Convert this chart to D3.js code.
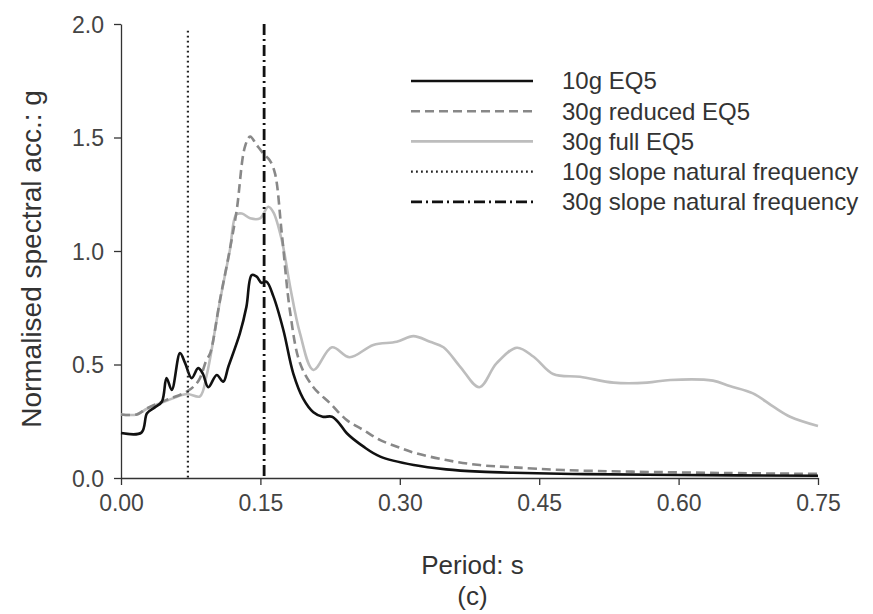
<html>
<head>
<script src="https://cdn.jsdelivr.net/npm/d3@7"></script>
<style>
  body { margin: 0; background: #fff; }
  text { font-family: "Liberation Sans", Arial, sans-serif; fill: #333; }
  .axis path, .axis line { stroke: #333; stroke-width: 1.3; }
  .axis text { font-size: 23px; fill: #444; }
  .series { fill: none; stroke-linejoin: round; }
</style>
</head>
<body>
<svg id="plot"></svg>
<script>
var SizeX = 873, SizeY = 614;
var Margin = { left: 121, right: 55, top: 24, bottom: 136 };

var xTicks = [0, 0.15, 0.30, 0.45, 0.60, 0.75];
var yTicks = [0, 0.5, 1.0, 1.5, 2.0];

// 10g EQ5
var eq10T = [0, 0.022, 0.028, 0.036, 0.044, 0.049, 0.0546, 0.0635, 0.069, 0.076, 0.083, 0.088, 0.094,
             0.103, 0.110, 0.1155, 0.128, 0.135, 0.1406, 0.146, 0.151, 0.1565, 0.164, 0.1747, 0.1854,
             0.196, 0.207, 0.217, 0.227, 0.235, 0.243, 0.261, 0.279, 0.315, 0.35, 0.386, 0.422, 0.5, 0.6, 0.75];
var eq10V = [0.198, 0.20, 0.285, 0.31, 0.336, 0.44, 0.388, 0.55, 0.506, 0.44, 0.484, 0.46, 0.40,
             0.454, 0.424, 0.49, 0.638, 0.755, 0.894, 0.887, 0.86, 0.865, 0.80, 0.652, 0.46,
             0.35, 0.29, 0.27, 0.27, 0.24, 0.197, 0.138, 0.094, 0.057, 0.038, 0.028, 0.023, 0.017, 0.013, 0.01];

// 30g reduced EQ5
var red30T = [0, 0.017, 0.028, 0.049, 0.0707, 0.08, 0.085, 0.092, 0.096, 0.1065, 0.117, 0.1245, 0.1334,
              0.139, 0.146, 0.153, 0.160, 0.1657, 0.173, 0.182, 0.1926, 0.207, 0.225, 0.243, 0.261,
              0.279, 0.297, 0.315, 0.35, 0.386, 0.422, 0.476, 0.55, 0.65, 0.75];
var red30V = [0.28, 0.28, 0.307, 0.344, 0.38, 0.41, 0.44, 0.52, 0.55, 0.784, 1.004, 1.18, 1.46,
              1.504, 1.467, 1.43, 1.40, 1.342, 1.078, 0.73, 0.506, 0.40, 0.329, 0.255, 0.211,
              0.167, 0.138, 0.112, 0.079, 0.057, 0.047, 0.035, 0.028, 0.022, 0.018];

// 30g full EQ5
var full30T = [0, 0.017, 0.028, 0.049, 0.0707, 0.085, 0.092, 0.096, 0.1065, 0.117, 0.124, 0.13, 0.139,
               0.1496, 0.1585, 0.164, 0.173, 0.182, 0.1926, 0.207, 0.227, 0.246, 0.2715, 0.2967, 0.3146,
               0.3325, 0.347, 0.365, 0.3856, 0.404, 0.426, 0.444, 0.465, 0.494, 0.53, 0.566, 0.591,
               0.637, 0.655, 0.68, 0.702, 0.72, 0.75];
var full30V = [0.28, 0.28, 0.305, 0.34, 0.37, 0.36, 0.45, 0.53, 0.78, 1.0, 1.16, 1.165, 1.144,
               1.144, 1.195, 1.17, 1.048, 0.843, 0.637, 0.476, 0.576, 0.532, 0.586, 0.60, 0.625,
               0.60, 0.576, 0.49, 0.40, 0.505, 0.574, 0.534, 0.458, 0.446, 0.42, 0.42, 0.432,
               0.429, 0.405, 0.373, 0.314, 0.27, 0.229];

// natural periods of the slopes
var natPeriods = [0.072, 0.154];

var legendLabels = ["10g EQ5", "30g reduced EQ5", "30g full EQ5",
                    "10g slope natural frequency", "30g slope natural frequency"];

var styles = [
  { color: "#111", width: 2.6, dash: null },
  { color: "#888", width: 2.6, dash: "9,5" },
  { color: "#bdbdbd", width: 2.6, dash: null },
  { color: "#222", width: 2.2, dash: "1.8,3.2" },
  { color: "#111", width: 2.8, dash: "11,4,2,4" }
];

var svg = d3.select("#plot").attr("width", SizeX).attr("height", SizeY);

var x = d3.scaleLinear().domain([0, 0.75]).range([Margin.left, SizeX - Margin.right]);
var y = d3.scaleLinear().domain([0, 2]).range([SizeY - Margin.bottom, Margin.top]);

function zip(ts, vs) { return ts.map(function(t, i) { return { t: t, v: vs[i] }; }); }

var series = [zip(eq10T, eq10V), zip(red30T, red30V), zip(full30T, full30V)];

var line = d3.line().x(function(d) { return x(d.t); }).y(function(d) { return y(d.v); })
  .curve(d3.curveCatmullRom.alpha(0.5));

var ax = svg.append("g").attr("class", "axis")
  .attr("transform", "translate(0," + y(0) + ")")
  .call(d3.axisBottom(x).tickValues(xTicks).tickFormat(d3.format(".2f")).tickSize(7).tickSizeOuter(0).tickPadding(10));
var ay = svg.append("g").attr("class", "axis")
  .attr("transform", "translate(" + x(0) + ",0)")
  .call(d3.axisLeft(y).tickValues(yTicks).tickFormat(d3.format(".1f")).tickSize(7).tickSizeOuter(0).tickPadding(10));
ay.selectAll("text").attr("dy", "0.35em");

// draw order: light gray, dashed, black
[2, 1, 0].forEach(function(i) {
  svg.append("path").datum(series[i]).attr("class", "series")
    .attr("d", line)
    .attr("stroke", styles[i].color)
    .attr("stroke-width", styles[i].width)
    .attr("stroke-dasharray", styles[i].dash);
});

natPeriods.forEach(function(p, i) {
  var s = styles[3 + i];
  svg.append("line")
    .attr("x1", x(p)).attr("x2", x(p))
    .attr("y1", y(i == 0 ? 1.97 : 2.0)).attr("y2", y(0))
    .attr("stroke", s.color).attr("stroke-width", s.width)
    .attr("stroke-dasharray", s.dash);
});

// legend
var lg = svg.append("g").attr("transform", "translate(411,81)");
legendLabels.forEach(function(lab, i) {
  var s = styles[i];
  var row = lg.append("g").attr("transform", "translate(0," + (i * 30.2) + ")");
  row.append("line").attr("x1", 0).attr("x2", 122).attr("y1", 0).attr("y2", 0)
    .attr("stroke", s.color).attr("stroke-width", s.width).attr("stroke-dasharray", s.dash);
  row.append("text").attr("x", 151).attr("y", 0).attr("dy", "0.35em")
    .style("font-size", "24px").text(lab);
});

// axis titles
svg.append("text").attr("x", (x(0) + x(0.75)) / 2 + 3).attr("y", 574)
  .attr("text-anchor", "middle").style("font-size", "26px").text("Period: s");
svg.append("text").attr("x", (x(0) + x(0.75)) / 2 + 3).attr("y", 605)
  .attr("text-anchor", "middle").style("font-size", "26px").text("(c)");
svg.append("text").attr("transform", "translate(41,259) rotate(-90)")
  .attr("text-anchor", "middle").style("font-size", "28px").text("Normalised spectral acc.: g");
</script>
</body>
</html>
